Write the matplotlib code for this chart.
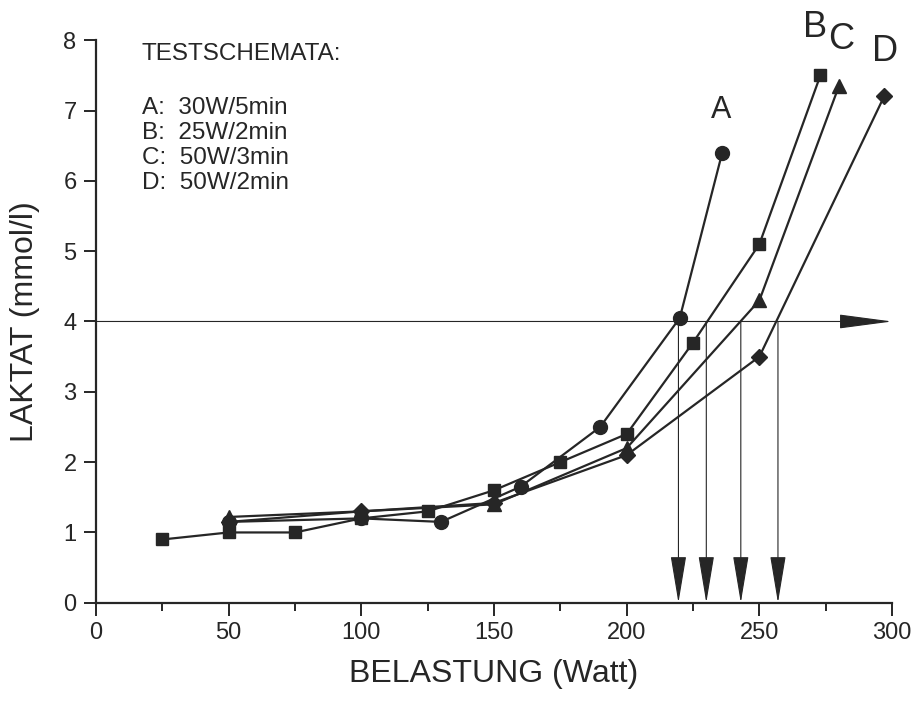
import matplotlib.pyplot as plt
from matplotlib.ticker import MultipleLocator

plt.rcParams['font.family'] = ['Liberation Sans', 'DejaVu Sans']

# Data
a_x = [50, 100, 130, 160, 190, 220, 236]
a_y = [1.15, 1.2, 1.15, 1.65, 2.5, 4.05, 6.4]
b_x = [25, 50, 75, 100, 125, 150, 175, 200, 225, 250, 273]
b_y = [0.9, 1.0, 1.0, 1.2, 1.3, 1.6, 2.0, 2.4, 3.7, 5.1, 7.5]
c_x = [50, 100, 150, 200, 250, 280]
c_y = [1.22, 1.3, 1.4, 2.2, 4.3, 7.35]
d_x = [50, 100, 150, 200, 250, 297]
d_y = [1.15, 1.3, 1.42, 2.1, 3.5, 7.2]

threshold = 4
threshold_x = [219.5, 230, 243, 257]

legend_title = 'TESTSCHEMATA:'
legend_lines = ['A:  30W/5min', 'B:  25W/2min', 'C:  50W/3min', 'D:  50W/2min']

ink = '#262626'

fig = plt.figure(figsize=(9.14, 7.05), dpi=100)
ax = fig.add_axes([0.105, 0.145, 0.871, 0.798])

# horizontal 4 mmol line with arrow
ax.annotate('', xy=(300, threshold), xytext=(0, threshold),
            arrowprops=dict(arrowstyle='-|>,head_length=3.4,head_width=0.45',
                            mutation_scale=10, color=ink, lw=0.8,
                            shrinkA=0, shrinkB=0))
# vertical arrows down to the x axis
for xv in threshold_x:
    ax.annotate('', xy=(xv, 0), xytext=(xv, threshold),
                arrowprops=dict(arrowstyle='-|>,head_length=3.0,head_width=0.5',
                                mutation_scale=10, color=ink, lw=0.8,
                                shrinkA=0, shrinkB=0))

ax.plot(a_x, a_y, color=ink, lw=1.6, marker='o', ms=10, zorder=3)
ax.plot(b_x, b_y, color=ink, lw=1.6, marker='s', ms=8.5, zorder=3)
ax.plot(c_x, c_y, color=ink, lw=1.6, marker='^', ms=10, zorder=3)
ax.plot(d_x, d_y, color=ink, lw=1.6, marker='D', ms=8, zorder=3)

# curve labels
ax.text(235.6, 6.89, 'A', fontsize=22, ha='center', va='baseline', color=ink)
ax.text(271, 8.04, 'B', fontsize=26, ha='center', va='baseline', color=ink,
        clip_on=False)
ax.text(281, 7.88, 'C', fontsize=26, ha='center', va='baseline', color=ink,
        clip_on=False)
ax.text(297.4, 7.71, 'D', fontsize=26, ha='center', va='baseline', color=ink,
        clip_on=False)

# test scheme notes
ax.text(17.3, 7.81, legend_title, fontsize=17.5, color=ink, va='center')
for i, line in enumerate(legend_lines):
    ax.text(17.3, 7.03 - i * 0.355, line, fontsize=17.5, color=ink,
            va='center')

ax.set_xlim(0, 300)
ax.set_ylim(0, 8)
ax.xaxis.set_major_locator(MultipleLocator(50))
ax.xaxis.set_minor_locator(MultipleLocator(25))
ax.yaxis.set_major_locator(MultipleLocator(1))
ax.spines['top'].set_visible(False)
ax.spines['right'].set_visible(False)
for s in ['left', 'bottom']:
    ax.spines[s].set_color(ink)
    ax.spines[s].set_linewidth(1.6)
ax.tick_params(which='major', length=9, width=1.4, color=ink,
               labelsize=17, labelcolor=ink, pad=5)
ax.tick_params(which='minor', length=6, width=1.4, color=ink)

ax.set_xlabel('BELASTUNG (Watt)', fontsize=23, color=ink, labelpad=11)
ax.set_ylabel('LAKTAT (mmol/l)', fontsize=23, color=ink)
ax.yaxis.set_label_coords(-0.07, 0.5)

fig.savefig('out.png', dpi=100)
